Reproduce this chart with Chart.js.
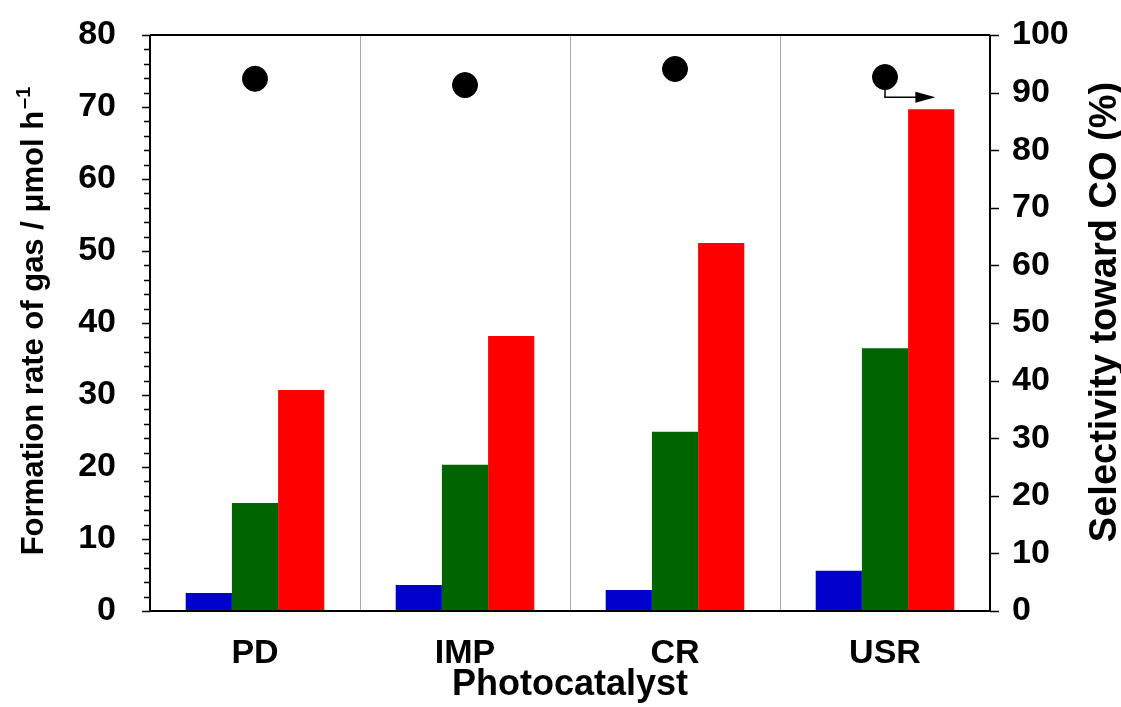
<!DOCTYPE html>
<html>
<head>
<meta charset="utf-8">
<script src="https://cdn.jsdelivr.net/npm/chart.js@4.4.1/dist/chart.umd.min.js"></script>
<style>
  html, body { margin: 0; padding: 0; background: #fff; }
  #wrap { width: 1121px; height: 707px; }
</style>
</head>
<body>
<div id="wrap"><canvas id="gasChart" width="1121" height="707"></canvas></div>
<script>
const catalysts = ["PD", "IMP", "CR", "USR"];
const blueRates = [2.5, 3.6, 2.9, 5.6];
const greenRates = [15.0, 20.3, 24.9, 36.5];
const redRates = [30.7, 38.2, 51.1, 69.7];
const selectivityCO = [92.4, 91.3, 94.1, 92.7];

const FONT = "'Liberation Sans', Arial, sans-serif";

// minor ticks, frame, axis titles and the little arrow near USR
const framePlugin = {
  id: "frame",
  afterDraw(chart) {
    const { ctx, chartArea: a, scales } = chart;
    const y = scales.y, y2 = scales.y2, x = scales.x;
    ctx.save();
    ctx.strokeStyle = "#000";
    ctx.lineWidth = 2;
    ctx.beginPath();
    ctx.moveTo(a.left, a.top); ctx.lineTo(a.right, a.top);
    ctx.moveTo(a.left, a.top); ctx.lineTo(a.left, a.bottom);
    ctx.moveTo(a.right, a.top); ctx.lineTo(a.right, a.bottom);
    ctx.moveTo(a.left, a.bottom); ctx.lineTo(a.right, a.bottom);
    ctx.stroke();
    ctx.lineWidth = 1.5;
    ctx.beginPath();
    for (let v = 0; v <= 80; v += 2) {
      const py = Math.round(y.getPixelForValue(v)) + 0.5;
      const len = v % 10 === 0 ? 8 : 6;
      ctx.moveTo(a.left - len, py); ctx.lineTo(a.left, py);
    }
    for (let v = 0; v <= 100; v += 10) {
      const py = Math.round(y2.getPixelForValue(v)) + 0.5;
      ctx.moveTo(a.right, py); ctx.lineTo(a.right + 9, py);
    }
    ctx.stroke();

    // arrow pointing the USR selectivity point to the right axis
    const cw = x.getPixelForValue(1) - x.getPixelForValue(0);
    const px = x.getPixelForValue(3);
    const py0 = y2.getPixelForValue(selectivityCO[3]);
    const py1 = y2.getPixelForValue(89.2);
    const pEnd = px + cw * 0.24;
    ctx.lineWidth = 1.5;
    ctx.beginPath();
    ctx.moveTo(px, py0); ctx.lineTo(px, py1); ctx.lineTo(pEnd - 15, py1);
    ctx.stroke();
    ctx.fillStyle = "#000";
    ctx.beginPath();
    ctx.moveTo(pEnd, py1);
    ctx.lineTo(pEnd - 20, py1 - 5.5);
    ctx.lineTo(pEnd - 20, py1 + 5.5);
    ctx.closePath();
    ctx.fill();

    // axis titles, both read bottom to top
    ctx.fillStyle = "#000";
    ctx.textBaseline = "alphabetic";
    const main = "Formation rate of gas / μmol h";
    const sup = "–1";
    ctx.font = "bold 31px " + FONT;
    const wMain = ctx.measureText(main).width;
    ctx.font = "bold 20px " + FONT;
    const wSup = ctx.measureText(sup).width;
    ctx.save();
    ctx.translate(43, 321);
    ctx.rotate(-Math.PI / 2);
    const start = -(wMain + wSup + 2) / 2;
    ctx.textAlign = "left";
    ctx.font = "bold 31px " + FONT;
    ctx.fillText(main, start, 0);
    ctx.font = "bold 20px " + FONT;
    ctx.fillText(sup, start + wMain + 2, -13);
    ctx.restore();

    ctx.save();
    ctx.translate(1116, 312);
    ctx.rotate(-Math.PI / 2);
    ctx.textAlign = "center";
    ctx.font = "bold 38px " + FONT;
    ctx.fillText("Selectivity toward CO (%)", 0, 0);
    ctx.restore();
    ctx.restore();
  }
};

function noVertPad(s) {
  s.paddingTop = 0;
  s.paddingBottom = 0;
}

new Chart(document.getElementById("gasChart"), {
  type: "bar",
  data: {
    labels: catalysts,
    datasets: [
      { label: "selectivity", type: "line", data: selectivityCO, yAxisID: "y2",
        showLine: false, pointRadius: 12.5, pointHoverRadius: 12.5,
        pointBackgroundColor: "#000", pointBorderColor: "#000", order: 0 },
      { label: "blue", data: blueRates, backgroundColor: "#0000cc", yAxisID: "y", order: 1 },
      { label: "green", data: greenRates, backgroundColor: "#006400", yAxisID: "y", order: 1 },
      { label: "red", data: redRates, backgroundColor: "#ff0000", yAxisID: "y", order: 1 }
    ]
  },
  options: {
    responsive: false,
    animation: false,
    events: [],
    layout: { padding: { top: 35, left: 0, right: 0, bottom: 0 } },
    datasets: { bar: { categoryPercentage: 0.66, barPercentage: 1.0 } },
    plugins: { legend: { display: false }, tooltip: { enabled: false } },
    scales: {
      x: {
        offset: true,
        grid: { offset: true, color: "#aaaaaa", lineWidth: 1, drawTicks: false },
        border: { display: false },
        ticks: { color: "#000", padding: 22, font: { family: FONT, size: 34, weight: "bold" } },
        title: { display: true, text: "Photocatalyst", color: "#000", padding: { top: 2, bottom: 0 },
                 font: { family: FONT, size: 36, weight: "bold" } },
        afterFit(s) { s.height = 96; }
      },
      y: {
        position: "left",
        min: 0, max: 80,
        ticks: { stepSize: 10, color: "#000", padding: 34, font: { family: FONT, size: 34, weight: "bold" } },
        grid: { display: false, drawTicks: false },
        border: { display: false },
        afterFit(s) { s.width = 150; noVertPad(s); }
      },
      y2: {
        position: "right",
        min: 0, max: 100,
        ticks: { stepSize: 10, color: "#000", padding: 22, font: { family: FONT, size: 34, weight: "bold" } },
        grid: { display: false, drawTicks: false },
        border: { display: false },
        afterFit(s) { s.width = 131; noVertPad(s); }
      }
    }
  },
  plugins: [framePlugin]
});
</script>
</body>
</html>
